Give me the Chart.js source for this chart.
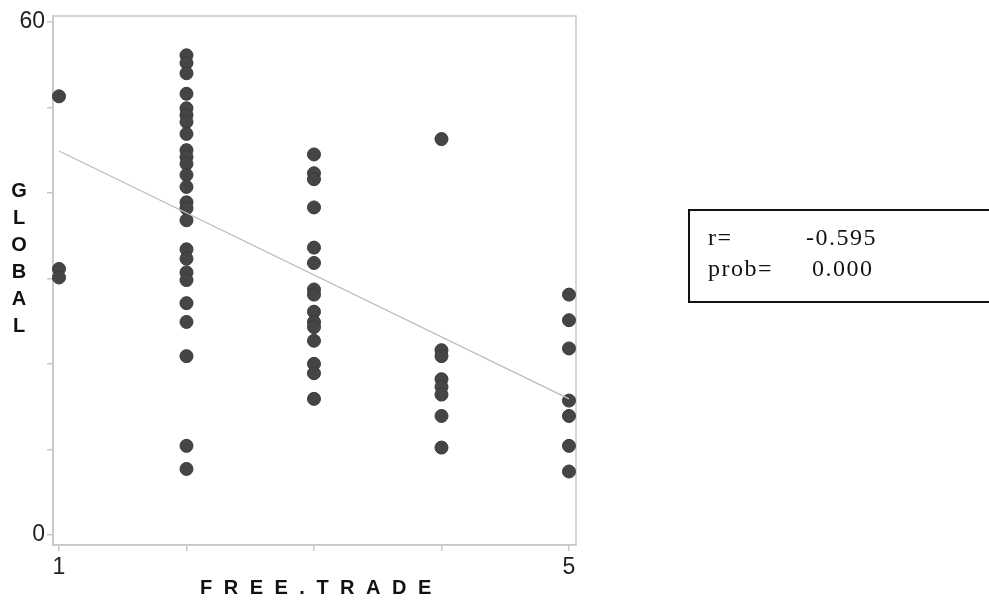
<!DOCTYPE html>
<html lang="en">
<head>
    <meta charset="UTF-8">
    <title>GLOBAL vs FREE.TRADE</title>
    <script src="https://cdn.jsdelivr.net/npm/chart.js"></script>
    <style>
        body {
            margin: 0;
            background: #ffffff;
        }
        .wrap {
            position: relative;
            width: 989px;
            height: 602px;
            overflow: hidden;
        }
        .ytitle {
            position: absolute;
            left: 8px;
            top: 177px;
            width: 22px;
            font-family: Arial, "Liberation Sans", sans-serif;
            font-weight: bold;
            font-size: 20px;
            line-height: 27px;
            text-align: center;
            color: #111;
        }
        .xtitle {
            position: absolute;
            left: 200px;
            top: 576px;
            font-family: Arial, "Liberation Sans", sans-serif;
            font-weight: bold;
            font-size: 20px;
            letter-spacing: 11.5px;
            color: #111;
        }
        .statbox {
            position: absolute;
            left: 688px;
            top: 209px;
            width: 320px;
            height: 90px;
            border: 2px solid #111;
            font-family: "Liberation Serif", "DejaVu Serif", serif;
            font-size: 24px;
            letter-spacing: 1.5px;
            color: #111;
        }
        .statbox span {
            position: absolute;
            white-space: nowrap;
        }
    </style>
</head>
<body>
    <div class="wrap">
        <canvas id="scatter" width="989" height="602"></canvas>
        <div class="ytitle">G<br>L<br>O<br>B<br>A<br>L</div>
        <div class="xtitle">FREE.TRADE</div>
        <div class="statbox">
            <span style="left:18px; top:13px;">r=</span>
            <span style="left:116px; top:13px;">-0.595</span>
            <span style="left:18px; top:44px;">prob=</span>
            <span style="left:122px; top:44px;">0.000</span>
        </div>
    </div>

    <script>
        // GLOBAL values read per FREE.TRADE level
        const globalAtFree1 = [51.3, 31.1, 30.1];
        const globalAtFree2 = [56.1, 55.2, 54.0, 51.6, 49.9, 49.1, 48.3, 46.9, 45.0, 44.2, 43.4, 42.1, 40.7,
                               38.9, 38.2, 36.8, 33.4, 32.3, 30.7, 29.8, 27.1, 24.9, 20.9, 10.4, 7.7];
        const globalAtFree3 = [44.5, 42.3, 41.6, 38.3, 33.6, 31.8, 28.7, 28.1, 26.1, 24.9, 24.3, 22.7, 20.0, 18.9, 15.9];
        const globalAtFree4 = [46.3, 21.6, 20.9, 18.2, 17.3, 16.4, 13.9, 10.2];
        const globalAtFree5 = [28.1, 25.1, 21.8, 15.7, 13.9, 10.4, 7.4];

        // fitted line end points
        const fitX = [1, 5];
        const fitY = [44.9, 15.9];

        // axis ticks
        const xTickValues = [1, 2, 3, 4, 5];
        const xTickLabels = ['1', '', '', '', '5'];
        const yTickValues = [0, 10, 20, 30, 40, 50, 60];
        const yTickLabels = ['0', '', '', '', '', '', '60'];

        const groups = [
            [1, globalAtFree1],
            [2, globalAtFree2],
            [3, globalAtFree3],
            [4, globalAtFree4],
            [5, globalAtFree5]
        ];
        const points = [];
        groups.forEach(([x, ys]) => ys.forEach(y => points.push({ x: x, y: y })));

        const fitPoints = fitX.map((x, i) => ({ x: x, y: fitY[i] }));

        const frameColor = '#c8c8c8';

        // light grey box round the plot area
        const framePlugin = {
            id: 'frame',
            beforeDatasetsDraw(chart) {
                const a = chart.chartArea;
                const ctx = chart.ctx;
                ctx.save();
                ctx.strokeStyle = frameColor;
                ctx.lineWidth = 1.5;
                ctx.strokeRect(a.left, a.top, a.right - a.left, a.bottom - a.top);
                ctx.restore();
            }
        };

        const tickFont = { family: 'Arial, "Liberation Sans", sans-serif', size: 23 };

        new Chart(document.getElementById('scatter'), {
            type: 'scatter',
            data: {
                datasets: [
                    {
                        label: 'GLOBAL',
                        data: points,
                        backgroundColor: '#454545',
                        borderColor: '#3a3a3a',
                        borderWidth: 1,
                        pointRadius: 6.5,
                        pointHoverRadius: 6.5,
                        order: 1
                    },
                    {
                        type: 'line',
                        label: 'fit',
                        data: fitPoints,
                        borderColor: '#bdbdbd',
                        borderWidth: 1.3,
                        pointRadius: 0,
                        fill: false,
                        order: 0
                    }
                ]
            },
            options: {
                responsive: false,
                animation: false,
                clip: false,
                layout: {
                    padding: { top: 16, right: 413, left: 0, bottom: 0 }
                },
                plugins: {
                    legend: { display: false },
                    tooltip: { enabled: false }
                },
                scales: {
                    x: {
                        type: 'linear',
                        min: 0.953,
                        max: 5.055,
                        afterBuildTicks: (scale) => {
                            scale.ticks = xTickValues.map(v => ({ value: v }));
                        },
                        afterFit: (scale) => { scale.height = 57; },
                        ticks: {
                            autoSkip: false,
                            maxRotation: 0,
                            padding: 3,
                            color: '#222',
                            font: tickFont,
                            callback: (v, i) => xTickLabels[i]
                        },
                        grid: {
                            drawOnChartArea: false,
                            drawTicks: true,
                            tickLength: 6,
                            color: frameColor,
                            lineWidth: 1.5
                        },
                        border: { color: frameColor, width: 1.5 }
                    },
                    y: {
                        type: 'linear',
                        min: -1.2,
                        max: 60.7,
                        afterBuildTicks: (scale) => {
                            scale.ticks = yTickValues.map(v => ({ value: v }));
                        },
                        afterFit: (scale) => { scale.width = 53; },
                        ticks: {
                            autoSkip: false,
                            padding: 2,
                            color: '#222',
                            font: tickFont,
                            callback: (v, i) => yTickLabels[i]
                        },
                        grid: {
                            drawOnChartArea: false,
                            drawTicks: true,
                            tickLength: 6,
                            color: frameColor,
                            lineWidth: 1.5
                        },
                        border: { color: frameColor, width: 1.5 }
                    }
                }
            },
            plugins: [framePlugin]
        });
    </script>
</body>
</html>
